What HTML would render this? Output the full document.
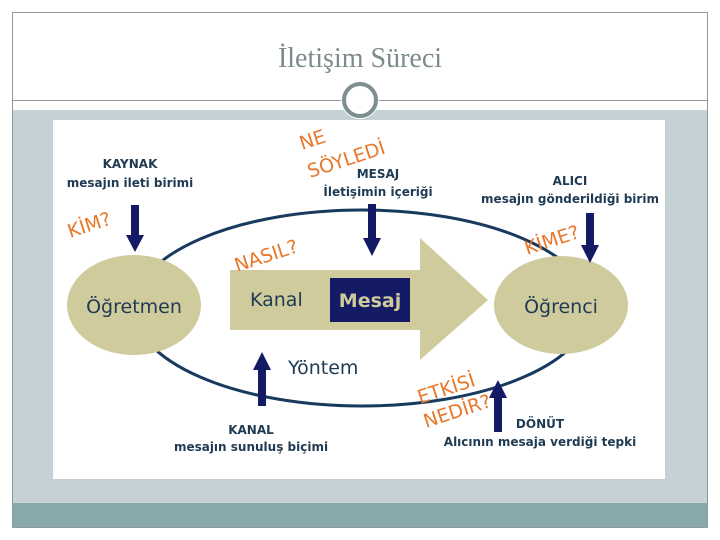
<!DOCTYPE html>
<html><head><meta charset="utf-8"><style>
html,body{margin:0;padding:0;background:#fff;width:720px;height:540px;overflow:hidden}
</style></head><body>
<svg width="720" height="540" viewBox="0 0 720 540" xmlns="http://www.w3.org/2000/svg" font-family="Liberation Sans, DejaVu Sans, sans-serif">
<rect x="12.5" y="12.5" width="695" height="515" fill="#fff" stroke="#8a9a9c"/>
<rect x="13" y="110" width="694" height="393" fill="#c6d1d6"/>
<rect x="13" y="503" width="694" height="24" fill="#88a9aa"/>
<line x1="13" y1="100.5" x2="707" y2="100.5" stroke="#8a9a9c"/>
<text x="360" y="67" text-anchor="middle" font-family="Liberation Serif, serif" font-size="28" fill="#7d8b8e">İletişim Süreci</text>
<circle cx="360" cy="100" r="19" fill="#fff"/>
<circle cx="360" cy="100" r="16" fill="#fff" stroke="#7c8e90" stroke-width="4"/>
<rect x="53" y="120" width="612" height="359" fill="#fff"/>
<ellipse cx="362" cy="308" rx="228" ry="98" fill="none" stroke="#173a5e" stroke-width="3"/>
<polygon points="230,270 420,270 420,238 488,300 420,360 420,330 230,330" fill="#cfcb9c"/>
<ellipse cx="134" cy="305" rx="67" ry="50" fill="#cfcb9c"/>
<ellipse cx="561" cy="305" rx="67" ry="49" fill="#cfcb9c"/>
<rect x="330" y="278" width="80" height="44" fill="#141a63"/>
<g font-weight="bold" font-family="DejaVu Sans, sans-serif">
<text x="134" y="313" text-anchor="middle" font-size="19" fill="#1f3b53" font-weight="normal">Öğretmen</text>
<text x="561" y="313" text-anchor="middle" font-size="19" fill="#1f3b53" font-weight="normal">Öğrenci</text>
<text x="250" y="306" font-size="19" fill="#1f3b53" font-weight="normal">Kanal</text>
<text x="370" y="307" text-anchor="middle" font-size="19" fill="#cfcb9c">Mesaj</text>
<text x="288" y="374" font-size="19" fill="#1f3b53" font-weight="normal">Yöntem</text>
<g font-size="12" fill="#1f3b53" text-anchor="middle">
<text x="130" y="168">KAYNAK</text>
<text x="130" y="187">mesajın ileti birimi</text>
<text x="378" y="178">MESAJ</text>
<text x="378" y="196">İletişimin içeriği</text>
<text x="570" y="185">ALICI</text>
<text x="570" y="203">mesajın gönderildiği birim</text>
<text x="251" y="434">KANAL</text>
<text x="251" y="451">mesajın sunuluş biçimi</text>
<text x="540" y="428">DÖNÜT</text>
<text x="540" y="446">Alıcının mesaja verdiği tepki</text>
</g>
</g>
<g fill="#e9772a" font-family="DejaVu Sans, sans-serif" font-size="19">
<text x="70" y="238" transform="rotate(-18 70 238)">KİM?</text>
<text x="302" y="150" transform="rotate(-18 302 150)">NE</text>
<text x="310" y="178" transform="rotate(-18 310 178)">SÖYLEDİ</text>
<text x="237" y="272" transform="rotate(-18 237 272)">NASIL?</text>
<text x="527" y="255" transform="rotate(-18 527 255)">KİME?</text>
<text x="420" y="404" transform="rotate(-18 420 404)">ETKİSİ</text>
<text x="426" y="428" transform="rotate(-18 426 428)">NEDİR?</text>
</g>
<g fill="#141a63">
<rect x="131" y="205" width="8" height="32"/><polygon points="126,235 144,235 135,252"/>
<rect x="368" y="204" width="8" height="36"/><polygon points="363,238 381,238 372,256"/>
<rect x="586" y="213" width="8" height="34"/><polygon points="581,245 599,245 590,263"/>
<rect x="258" y="368" width="8" height="38"/><polygon points="253,370 271,370 262,352"/>
<rect x="494" y="396" width="8" height="36"/><polygon points="489,398 507,398 498,380"/>
</g>
</svg>
</body></html>
